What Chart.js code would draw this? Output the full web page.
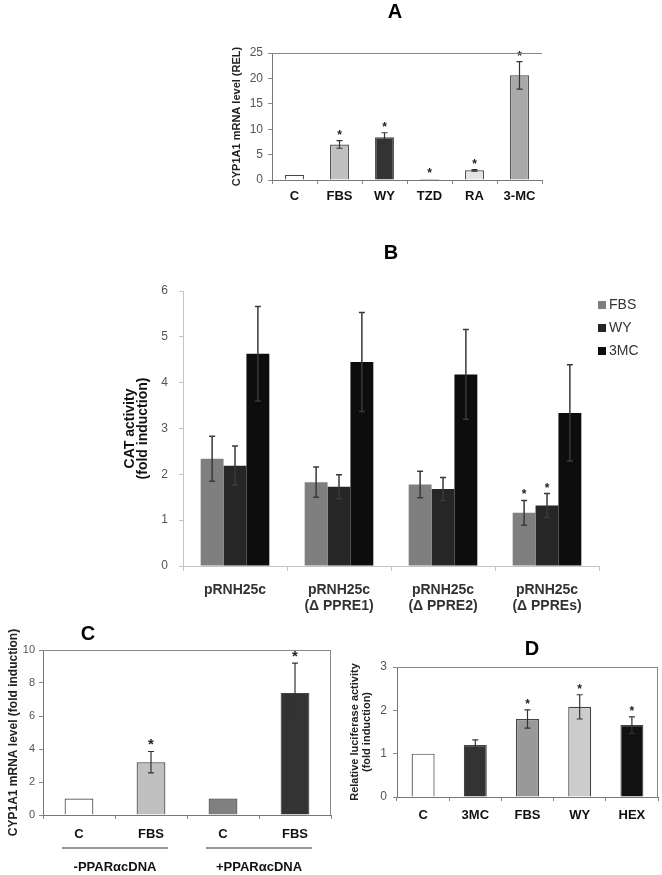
<!DOCTYPE html>
<html>
<head>
<meta charset="utf-8">
<script src="https://cdn.jsdelivr.net/npm/chart.js@4/dist/chart.umd.min.js"></script>
<style>
  body { margin: 0; background: #fff; width: 662px; height: 875px; position: relative; overflow: hidden; }
  canvas { position: absolute; }
</style>
</head>
<body>
<canvas id="chartA" width="380" height="215" style="left:190px;top:0px"></canvas>
<canvas id="chartB" width="572" height="390" style="left:90px;top:235px"></canvas>
<canvas id="chartC" width="336" height="255" style="left:0px;top:620px"></canvas>
<canvas id="chartD" width="326" height="255" style="left:336px;top:620px"></canvas>
<script>
// ---- panel A data ----
const aLabels = ["C", "FBS", "WY", "TZD", "RA", "3-MC"];
const aValues = [1, 7.0, 8.4, 0.2, 1.9, 20.6];
const aErrors = [0, 0.75, 0.9, 0.05, 0.15, 2.7];
const aStars = [false, true, true, true, true, true];
const aColors = ["#ffffff", "#c0c0c0", "#333333", "#333333", "#e4e4e4", "#a9a9a9"];
const aTicks = [0, 5, 10, 15, 20, 25];

// ---- panel B data ----
const bLabels = [["pRNH25c"], ["pRNH25c", "(Δ PPRE1)"], ["pRNH25c", "(Δ PPRE2)"], ["pRNH25c", "(Δ PPREs)"]];
const bFBS = [2.34, 1.83, 1.78, 1.16];
const bFBSErr = [0.49, 0.33, 0.29, 0.27];
const bFBSStars = [false, false, false, true];
const bWY = [2.19, 1.73, 1.68, 1.32];
const bWYErr = [0.43, 0.26, 0.25, 0.26];
const bWYStars = [false, false, false, true];
const b3MC = [4.63, 4.45, 4.18, 3.34];
const b3MCErr = [1.03, 1.08, 0.98, 1.05];
const bTicks = [0, 1, 2, 3, 4, 5, 6];

// ---- panel C data ----
const cLabels = ["C", "FBS", "C", "FBS"];
const cValues = [1, 3.2, 1, 7.4];
const cErrors = [0, 0.65, 0, 1.8];
const cStars = [false, true, false, true];
const cColors = ["#ffffff", "#c0c0c0", "#808080", "#333333"];
const cGroups = ["-PPARαcDNA", "+PPARαcDNA"];
const cGroupSpans = [[0, 1], [2, 3]];
const cTicks = [0, 2, 4, 6, 8, 10];

// ---- panel D data ----
const dLabels = ["C", "3MC", "FBS", "WY", "HEX"];
const dValues = [1, 1.2, 1.8, 2.08, 1.66];
const dErrors = [0, 0.12, 0.21, 0.28, 0.19];
const dStars = [false, false, true, true, true];
const dColors = ["#ffffff", "#333333", "#999999", "#cccccc", "#111111"];
const dTicks = [0, 1, 2, 3];

const FONT = "'Liberation Sans', Arial, sans-serif";
Chart.defaults.font.family = FONT;
Chart.defaults.color = "#555";

// error bars + asterisks, drawn from dataset.errors / dataset.stars
const errorBars = {
    id: "errorBars",
    afterDatasetsDraw(chart, args, opts) {
        const { ctx } = chart;
        const y = chart.scales.y;
        chart.data.datasets.forEach((ds, di) => {
            if (!ds.errors) return;
            const meta = chart.getDatasetMeta(di);
            ctx.save();
            ctx.strokeStyle = opts.color || "#333";
            ctx.lineWidth = opts.width || 1.2;
            meta.data.forEach((bar, i) => {
                const e = ds.errors[i];
                const v = ds.data[i];
                const top = y.getPixelForValue(v + e);
                if (e > 0.06) {
                    const bot = y.getPixelForValue(v - e);
                    const cap = opts.cap || 3;
                    ctx.beginPath();
                    ctx.moveTo(bar.x, top); ctx.lineTo(bar.x, bot);
                    ctx.moveTo(bar.x - cap, top); ctx.lineTo(bar.x + cap, top);
                    ctx.moveTo(bar.x - cap, bot); ctx.lineTo(bar.x + cap, bot);
                    ctx.stroke();
                }
                if (ds.stars && ds.stars[i]) {
                    ctx.fillStyle = "#222";
                    ctx.font = "bold " + (opts.starSize || 12) + "px " + FONT;
                    ctx.textAlign = "center";
                    ctx.textBaseline = "alphabetic";
                    ctx.fillText("*", bar.x, top - 2);
                }
            });
            ctx.restore();
        });
    }
};

// panel letter, frame lines, legend and group labels
const panelDecor = {
    id: "panelDecor",
    afterDraw(chart, args, opts) {
        const { ctx, chartArea: a } = chart;
        ctx.save();
        ctx.strokeStyle = opts.frameColor || "#888";
        ctx.lineWidth = 1;
        if (opts.frameTop) {
            ctx.beginPath(); ctx.moveTo(a.left, a.top + 0.5); ctx.lineTo(a.right, a.top + 0.5); ctx.stroke();
        }
        if (opts.frameRight) {
            ctx.beginPath(); ctx.moveTo(a.right - 0.5, a.top); ctx.lineTo(a.right - 0.5, a.bottom); ctx.stroke();
        }
        if (opts.letter) {
            ctx.font = "bold 20px " + FONT;
            ctx.fillStyle = "#000";
            ctx.textAlign = "center";
            ctx.textBaseline = "middle";
            ctx.fillText(opts.letter, opts.letterX, opts.letterY);
        }
        if (opts.legend) {
            ctx.font = "14px " + FONT;
            ctx.textAlign = "left";
            ctx.textBaseline = "middle";
            chart.data.datasets.forEach((ds, i) => {
                const ly = a.top + 14 + i * 23;
                ctx.fillStyle = ds.backgroundColor;
                ctx.fillRect(a.right - 1, ly - 4, 8, 8);
                ctx.fillStyle = "#333";
                ctx.fillText(ds.label, a.right + 10, ly);
            });
        }
        if (opts.groups) {
            const x = chart.scales.x;
            ctx.font = "bold 13px " + FONT;
            ctx.textAlign = "center";
            ctx.textBaseline = "middle";
            opts.groups.forEach((g, i) => {
                const [s, e] = opts.spans[i];
                const x0 = x.getPixelForValue(s) - 17;
                const x1 = x.getPixelForValue(e) + 17;
                ctx.strokeStyle = "#999";
                ctx.lineWidth = 2;
                ctx.beginPath(); ctx.moveTo(x0, a.bottom + 33); ctx.lineTo(x1, a.bottom + 33); ctx.stroke();
                ctx.fillStyle = "#111";
                ctx.fillText(g, (x0 + x1) / 2, a.bottom + 52);
            });
        }
        ctx.restore();
    }
};

function tickSetter(list) {
    return scale => { scale.ticks = list.map(v => ({ value: v })); };
}

// ===== Panel A =====
new Chart(document.getElementById("chartA"), {
    type: "bar",
    data: {
        labels: aLabels,
        datasets: [{
            data: aValues, errors: aErrors, stars: aStars,
            backgroundColor: aColors, borderColor: "#444", borderWidth: 1.2,
            barPercentage: 0.42, categoryPercentage: 1
        }]
    },
    options: {
        responsive: false, animation: false, events: [],
        layout: { padding: { left: 0, top: 53, right: 28, bottom: 5 } },
        plugins: {
            legend: { display: false }, tooltip: { enabled: false },
            errorBars: { starSize: 12, cap: 3 },
            panelDecor: { letter: "A", letterX: 205, letterY: 12, frameTop: true }
        },
        scales: {
            x: {
                grid: { drawOnChartArea: false, tickLength: 4, color: "#888" },
                border: { color: "#777" },
                ticks: { padding: 5, color: "#111", font: { size: 13, weight: "bold" } },
                afterFit: s => { s.height = 30; }
            },
            y: {
                min: 0, max: 25,
                afterBuildTicks: tickSetter(aTicks),
                grid: { drawOnChartArea: false, tickLength: 4, color: "#888" },
                border: { color: "#777" },
                ticks: { padding: 5, color: "#555", font: { size: 12 } },
                title: { display: true, text: "CYP1A1 mRNA level (REL)", color: "#222", font: { size: 11, weight: "bold" }, padding: { top: 40, bottom: 0 } },
                afterFit: s => { s.width = 82; }
            }
        }
    },
    plugins: [errorBars, panelDecor]
});

// ===== Panel B =====
new Chart(document.getElementById("chartB"), {
    type: "bar",
    data: {
        labels: bLabels,
        datasets: [
            { label: "FBS", data: bFBS, errors: bFBSErr, stars: bFBSStars, backgroundColor: "#7f7f7f" },
            { label: "WY", data: bWY, errors: bWYErr, stars: bWYStars, backgroundColor: "#262626" },
            { label: "3MC", data: b3MC, errors: b3MCErr, backgroundColor: "#0d0d0d" }
        ]
    },
    options: {
        responsive: false, animation: false, events: [],
        datasets: { bar: { barPercentage: 1, categoryPercentage: 0.66 } },
        layout: { padding: { left: 0, top: 56, right: 63, bottom: 9 } },
        plugins: {
            legend: { display: false }, tooltip: { enabled: false },
            errorBars: { color: "#3a3a3a", width: 1.5, cap: 3, starSize: 12 },
            panelDecor: { letter: "B", letterX: 301, letterY: 18, legend: true }
        },
        scales: {
            x: {
                grid: { drawOnChartArea: false, tickLength: 5, color: "#c4c4c4" },
                border: { color: "#c4c4c4" },
                ticks: { padding: 11, color: "#333", font: { size: 14, weight: "bold", lineHeight: 1.15 } },
                afterFit: s => { s.height = 50; }
            },
            y: {
                min: 0, max: 6,
                afterBuildTicks: tickSetter(bTicks),
                grid: { drawOnChartArea: false, tickLength: 4, color: "#c4c4c4" },
                border: { color: "#c4c4c4" },
                ticks: { padding: 11, color: "#555", font: { size: 12 } },
                title: { display: true, text: ["CAT activity", "(fold induction)"], color: "#111", font: { size: 14, weight: "bold", lineHeight: 0.9 }, padding: { top: 34, bottom: 0 } },
                afterFit: s => { s.width = 93; }
            }
        }
    },
    plugins: [errorBars, panelDecor]
});

// ===== Panel C =====
new Chart(document.getElementById("chartC"), {
    type: "bar",
    data: {
        labels: cLabels,
        datasets: [{
            data: cValues, errors: cErrors, stars: cStars,
            backgroundColor: cColors, borderColor: "#444", borderWidth: 1.2,
            barPercentage: 0.4, categoryPercentage: 1
        }]
    },
    options: {
        responsive: false, animation: false, events: [],
        layout: { padding: { left: 0, top: 30, right: 5, bottom: 32 } },
        plugins: {
            legend: { display: false }, tooltip: { enabled: false },
            errorBars: { starSize: 15, cap: 3 },
            panelDecor: { letter: "C", letterX: 88, letterY: 14, frameTop: true, frameRight: true, groups: cGroups, spans: cGroupSpans }
        },
        scales: {
            x: {
                grid: { drawOnChartArea: false, tickLength: 4, color: "#888" },
                border: { color: "#777" },
                ticks: { padding: 8, color: "#111", font: { size: 13, weight: "bold" } },
                afterFit: s => { s.height = 28; }
            },
            y: {
                min: 0, max: 10,
                afterBuildTicks: tickSetter(cTicks),
                grid: { drawOnChartArea: false, tickLength: 4, color: "#888" },
                border: { color: "#777" },
                ticks: { padding: 4, color: "#555", font: { size: 11 } },
                title: { display: true, text: "CYP1A1 mRNA level (fold induction)", color: "#222", font: { size: 12, weight: "bold" }, padding: { top: 6, bottom: 0 } },
                afterFit: s => { s.width = 43; }
            }
        }
    },
    plugins: [errorBars, panelDecor]
});

// ===== Panel D =====
new Chart(document.getElementById("chartD"), {
    type: "bar",
    data: {
        labels: dLabels,
        datasets: [{
            data: dValues, errors: dErrors, stars: dStars,
            backgroundColor: dColors, borderColor: "#444", borderWidth: 1.2,
            barPercentage: 0.44, categoryPercentage: 1
        }]
    },
    options: {
        responsive: false, animation: false, events: [],
        layout: { padding: { left: 0, top: 47, right: 4, bottom: 48 } },
        plugins: {
            legend: { display: false }, tooltip: { enabled: false },
            errorBars: { starSize: 12, cap: 3 },
            panelDecor: { letter: "D", letterX: 196, letterY: 29, frameTop: true, frameRight: true }
        },
        scales: {
            x: {
                grid: { drawOnChartArea: false, tickLength: 4, color: "#888" },
                border: { color: "#777" },
                ticks: { padding: 7, color: "#111", font: { size: 13, weight: "bold" } },
                afterFit: s => { s.height = 30; }
            },
            y: {
                min: 0, max: 3,
                afterBuildTicks: tickSetter(dTicks),
                grid: { drawOnChartArea: false, tickLength: 4, color: "#888" },
                border: { color: "#777" },
                ticks: { padding: 6, color: "#555", font: { size: 12 } },
                title: { display: true, text: ["Relative luciferase activity", "(fold induction)"], color: "#222", font: { size: 11, weight: "bold", lineHeight: 1.1 }, padding: { top: 13, bottom: 0 } },
                afterFit: s => { s.width = 61; }
            }
        }
    },
    plugins: [errorBars, panelDecor]
});
</script>
</body>
</html>
